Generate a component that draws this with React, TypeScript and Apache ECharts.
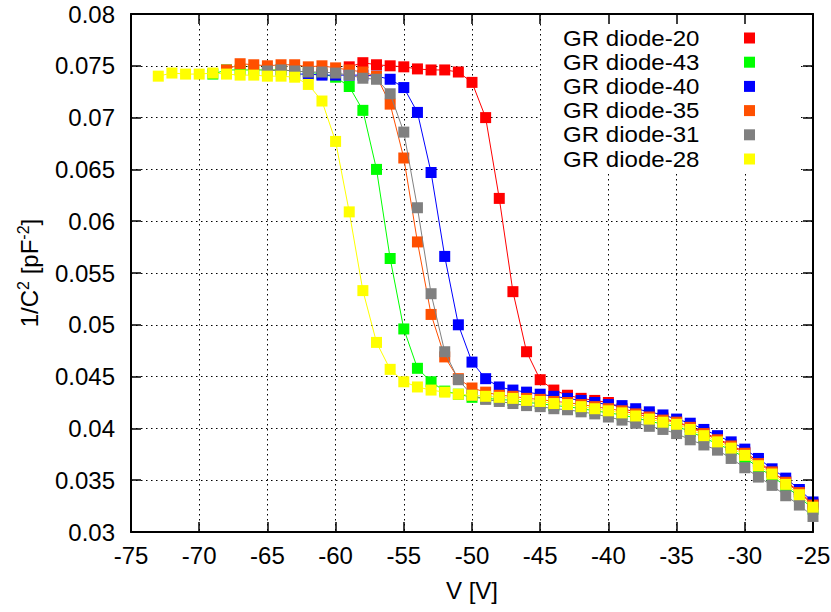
import React, { useEffect, useRef } from "react";
import * as echarts from "echarts";

// Voltage axis and capacitance axis tick labels
const xTickLabels = ["-75", "-70", "-65", "-60", "-55", "-50", "-45", "-40", "-35", "-30", "-25"];
const yTickLabels = ["0.03", "0.035", "0.04", "0.045", "0.05", "0.055", "0.06", "0.065", "0.07", "0.075", "0.08"];

const seriesNames = ["GR diode-20", "GR diode-43", "GR diode-40", "GR diode-35", "GR diode-31", "GR diode-28"];
const seriesColors = ["#ff0000", "#00ff00", "#0000ff", "#ff5000", "#808080", "#ffff00"];

// First bias voltage of each sweep (1 V steps up to -25 V)
const startVoltages = [-59, -69, -63, -68, -65, -73];

// 1/C^2 [pF^-2]
const diode20 = [
  0.0749, 0.0753, 0.0751, 0.075, 0.0749, 0.0747, 0.0746, 0.0746, 0.0744, 0.0734,
  0.07, 0.0622, 0.0532, 0.0474, 0.0447, 0.0437, 0.0432, 0.0429, 0.0427, 0.0425,
  0.0419, 0.0416, 0.0413, 0.041, 0.0406, 0.0402, 0.0396, 0.039, 0.0384, 0.0377,
  0.0368, 0.0358, 0.0349, 0.0339, 0.0327,
];
const diode43 = [
  0.0742, 0.0746, 0.0746, 0.0746, 0.0746, 0.0746, 0.0745, 0.0744, 0.0742, 0.0739,
  0.073, 0.0707, 0.065, 0.0564, 0.0496, 0.0458, 0.0445, 0.0436, 0.0433, 0.043,
  0.0429, 0.0428, 0.0427, 0.0425, 0.0424, 0.0422, 0.0421, 0.0419, 0.0417, 0.0415,
  0.0413, 0.041, 0.0407, 0.0404, 0.0402, 0.0397, 0.0391, 0.0385, 0.0379, 0.0372,
  0.0362, 0.0354, 0.0344, 0.0334, 0.0322,
];
const diode40 = [
  0.0742, 0.0742, 0.0741, 0.0741, 0.0741, 0.0741, 0.074, 0.0737, 0.0729, 0.0705,
  0.0647, 0.0566, 0.05, 0.0464, 0.0448, 0.044, 0.0437, 0.0435, 0.0433, 0.0431,
  0.0429, 0.0427, 0.0425, 0.0423, 0.0422, 0.0419, 0.0416, 0.0413, 0.0409, 0.0405,
  0.0399, 0.0393, 0.0387, 0.038, 0.0371, 0.0361, 0.0352, 0.0341, 0.0329,
];
const diode35 = [
  0.0746, 0.0752, 0.0751, 0.075, 0.0751, 0.0751, 0.0749, 0.075, 0.0748, 0.0746,
  0.0744, 0.074, 0.0713, 0.0661, 0.058, 0.051, 0.0469, 0.0448, 0.0439, 0.0435,
  0.0432, 0.0431, 0.0429, 0.0428, 0.0426, 0.0425, 0.0423, 0.0421, 0.0419, 0.0417,
  0.0414, 0.0411, 0.0408, 0.0406, 0.0401, 0.0395, 0.0389, 0.0383, 0.0376, 0.0366,
  0.0358, 0.0348, 0.0338, 0.0326,
];
const diode31 = [
  0.0745, 0.0746, 0.0745, 0.0744, 0.0744, 0.0743, 0.0741, 0.0738, 0.0737, 0.0723,
  0.0686, 0.0613, 0.053, 0.0474, 0.0447, 0.0432, 0.0428, 0.0426, 0.0424, 0.0422,
  0.0421, 0.0419, 0.0418, 0.0416, 0.0414, 0.0411, 0.0408, 0.0405, 0.0402, 0.0399,
  0.0395, 0.0389, 0.0384, 0.0379, 0.0371, 0.0362, 0.0353, 0.0345, 0.0335, 0.0326,
  0.0315,
];
const diode28 = [
  0.074, 0.0743, 0.0742, 0.0742, 0.0743, 0.0742, 0.0741, 0.0741, 0.074, 0.074,
  0.0739, 0.0732, 0.0716, 0.0677, 0.0609, 0.0533, 0.0483, 0.0457, 0.0445, 0.044,
  0.0437, 0.0435, 0.0433, 0.0432, 0.0431, 0.043, 0.0429, 0.0427, 0.0426, 0.0424,
  0.0423, 0.0421, 0.0419, 0.0417, 0.0415, 0.0412, 0.0409, 0.0406, 0.0404, 0.0399,
  0.0393, 0.0387, 0.0381, 0.0374, 0.0364, 0.0356, 0.0346, 0.0336, 0.0324,
];

const seriesValues = [diode20, diode43, diode40, diode35, diode31, diode28];

const FONT = "'Liberation Sans', Arial, Helvetica, sans-serif";
const X_MIN = -75;
const X_MAX = -25;
const X_STEP = 5;
const Y_MIN = 0.03;
const Y_MAX = 0.08;
const Y_STEP = 0.005;

function buildOption(): echarts.EChartsCoreOption {
  const frameLine = { show: true, onZero: false, lineStyle: { color: "#000", width: 2 } };
  const innerTick = { show: true, inside: true, length: 10, lineStyle: { color: "#000", width: 1.5 } };
  const dotted = { show: true, lineStyle: { color: "#000", width: 1, type: [1.5, 3.5] } };
  const labelStyle = { color: "#000", fontFamily: FONT, fontSize: 24 };

  const xBase = { type: "value", min: X_MIN, max: X_MAX, interval: X_STEP };
  const yBase = { type: "value", min: Y_MIN, max: Y_MAX, interval: Y_STEP };

  const series = seriesNames.map((name, i) => ({
    name,
    type: "line",
    xAxisIndex: 0,
    yAxisIndex: 0,
    z: 2 + i,
    data: seriesValues[i].map((v, k) => [startVoltages[i] + k, v]),
    symbol: "rect",
    symbolSize: 11,
    showAllSymbol: true,
    lineStyle: { color: seriesColors[i], width: 1 },
    itemStyle: { color: seriesColors[i], borderWidth: 0 },
    emphasis: { disabled: true },
  }));

  // key: white box over the grid, then labels and colour samples
  const keyTop = 38;
  const keyStep = 24.2;
  const keyElements: any[] = [
    {
      type: "rect",
      z: 1,
      silent: true,
      shape: { x: 541, y: 15, width: 257, height: 156 },
      style: { fill: "#fff" },
    },
  ];
  seriesNames.forEach((name, i) => {
    keyElements.push({
      type: "text",
      z: 10,
      x: 563,
      y: keyTop + keyStep * i,
      scaleX: 1.12,
      style: {
        text: name,
        fill: "#000",
        font: `21.5px ${FONT}`,
        lineHeight: 21,
        textAlign: "left",
        textVerticalAlign: "middle",
      },
    });
    keyElements.push({
      type: "rect",
      z: 10,
      shape: { x: 744, y: keyTop + keyStep * i - 5.5, width: 11, height: 11 },
      style: { fill: seriesColors[i] },
    });
  });

  return {
    animation: false,
    backgroundColor: "#fff",
    grid: { left: 131, right: 18, top: 14, bottom: 80, containLabel: false, outerBoundsMode: "none" },
    xAxis: [
      {
        ...xBase,
        position: "bottom",
        z: 6,
        axisLine: frameLine,
        axisTick: innerTick,
        axisLabel: {
          ...labelStyle,
          margin: 11,
          formatter: (v: number) => xTickLabels[Math.round((v - X_MIN) / X_STEP)] ?? "",
        },
        splitLine: { show: false },
        name: "V [V]",
        nameLocation: "middle",
        nameGap: 46,
        nameTextStyle: { ...labelStyle },
      },
      {
        ...xBase,
        position: "top",
        z: 6,
        axisLine: frameLine,
        axisTick: innerTick,
        axisLabel: { show: false },
        splitLine: { show: false },
      },
      {
        ...xBase,
        position: "bottom",
        z: 0,
        axisLine: { show: false },
        axisTick: { show: false },
        axisLabel: { show: false },
        splitLine: dotted,
      },
    ],
    yAxis: [
      {
        ...yBase,
        position: "left",
        z: 6,
        axisLine: frameLine,
        axisTick: innerTick,
        axisLabel: {
          ...labelStyle,
          margin: 16,
          formatter: (v: number) => yTickLabels[Math.round((v - Y_MIN) / Y_STEP)] ?? "",
        },
        splitLine: { show: false },
        name: "1/C{sup|2} [pF{sup|-2}]",
        nameLocation: "middle",
        nameGap: 88,
        nameTextStyle: {
          ...labelStyle,
          rich: {
            sup: { fontFamily: FONT, fontSize: 16, color: "#000", padding: [0, 0, 12, 0] },
          },
        },
      },
      {
        ...yBase,
        position: "right",
        z: 6,
        axisLine: frameLine,
        axisTick: innerTick,
        axisLabel: { show: false },
        splitLine: { show: false },
      },
      {
        ...yBase,
        position: "left",
        z: 0,
        axisLine: { show: false },
        axisTick: { show: false },
        axisLabel: { show: false },
        splitLine: dotted,
      },
    ],
    graphic: { elements: keyElements },
    series,
  };
}

export default function App() {
  const ref = useRef<HTMLDivElement>(null);

  useEffect(() => {
    if (!ref.current) return;
    const chart = echarts.init(ref.current, null, { renderer: "svg" });
    chart.setOption(buildOption());
    return () => chart.dispose();
  }, []);

  return (
    <div
      ref={ref}
      style={{ position: "absolute", left: 0, top: 0, width: 831, height: 612, background: "#fff" }}
    />
  );
}
